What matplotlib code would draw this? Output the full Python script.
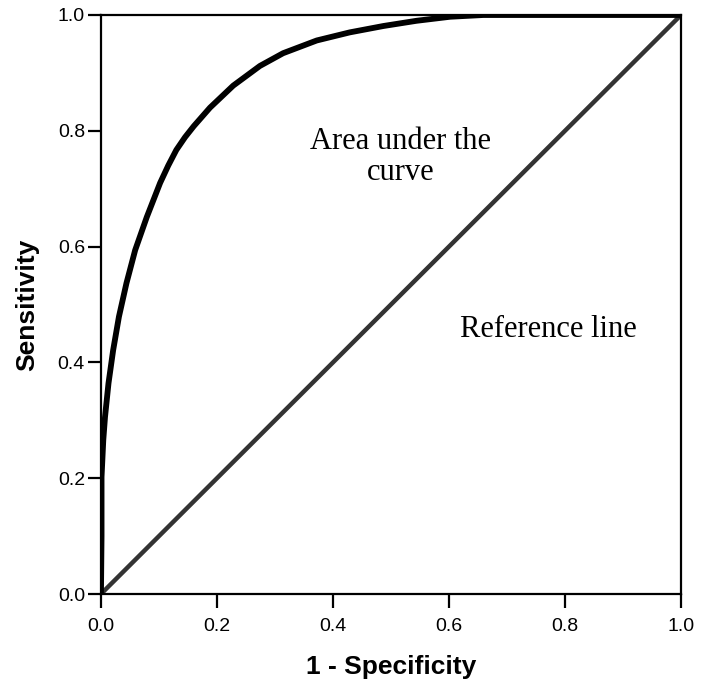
import matplotlib
matplotlib.use("Agg")
import matplotlib.pyplot as plt

# ROC curve
fpr = [0.0, 0.001, 0.001, 0.004, 0.007, 0.013, 0.021, 0.031, 0.044, 0.059,
       0.079, 0.102, 0.116, 0.130, 0.145, 0.160, 0.188, 0.228, 0.274, 0.314,
       0.372, 0.429, 0.487, 0.544, 0.602, 0.659, 0.75, 0.85, 1.0]
tpr = [0.0, 0.10, 0.202, 0.266, 0.306, 0.364, 0.421, 0.479, 0.537, 0.594,
       0.651, 0.710, 0.740, 0.767, 0.789, 0.808, 0.840, 0.878, 0.912, 0.934,
       0.956, 0.970, 0.981, 0.990, 0.997, 1.0, 1.0, 1.0, 1.0]

# reference (chance) line
ref_x = [0.0, 1.0]
ref_y = [0.0, 1.0]

ticks = [0.0, 0.2, 0.4, 0.6, 0.8, 1.0]
tick_labels = ["0.0", "0.2", "0.4", "0.6", "0.8", "1.0"]

fig = plt.figure(figsize=(7.06, 6.88), dpi=100)
ax = fig.add_axes([0.143, 0.1366, 0.8216, 0.8416])

ax.plot(ref_x, ref_y, color="0.2", lw=3.2, solid_capstyle="butt", zorder=2)
ax.plot(fpr, tpr, color="black", lw=4.2, solid_joinstyle="round", zorder=3)

ax.set_xlim(0, 1)
ax.set_ylim(0, 1)
ax.set_xticks(ticks)
ax.set_yticks(ticks)
ax.set_xticklabels(tick_labels, fontfamily="Liberation Sans", fontsize=14)
ax.set_yticklabels(tick_labels, fontfamily="Liberation Sans", fontsize=14)

for s in ax.spines.values():
    s.set_linewidth(1.6)
ax.tick_params(axis="x", direction="out", length=10, width=1.6, pad=7)
ax.tick_params(axis="y", direction="out", length=9.5, width=1.6, pad=2)

ax.set_xlabel("1 - Specificity", fontfamily="Liberation Sans", fontweight="bold",
              fontsize=19, labelpad=15)
ax.set_ylabel("Sensitivity", fontfamily="Liberation Sans", fontweight="bold",
              fontsize=19, labelpad=13)

ax.text(0.516, 0.755, "Area under the\ncurve", fontfamily="Liberation Serif",
        fontsize=22, ha="center", va="center", linespacing=1.1)
ax.text(0.772, 0.456, "Reference line", fontfamily="Liberation Serif",
        fontsize=22, ha="center", va="center")

fig.savefig("out.png", dpi=100)
